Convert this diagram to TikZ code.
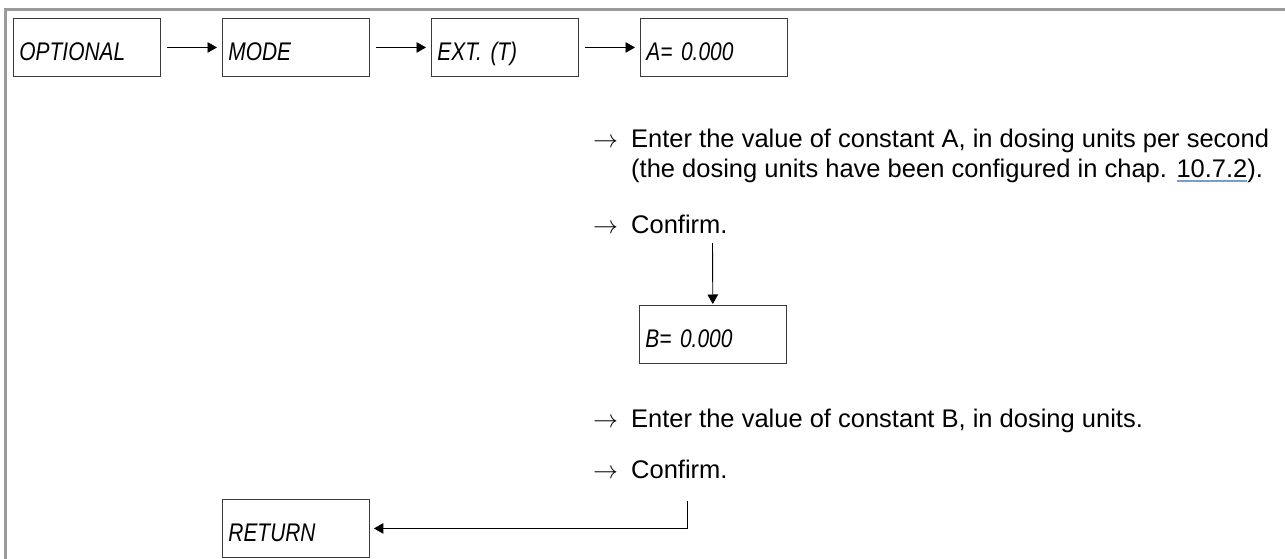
\documentclass[tikz,border=0pt]{standalone}
\usepackage{fontspec}
\setmainfont{Liberation Sans}
\newfontfamily\lcdfont{Liberation Sans}[FakeStretch=0.82]
\usepackage{xcolor}
\usetikzlibrary{arrows.meta}
\definecolor{framegray}{HTML}{9B9B9D}
\definecolor{boxgray}{HTML}{3A3A3A}
\definecolor{linkblue}{HTML}{7A9CC9}
\newsavebox\linkbox
\newcommand{\chapref}[1]{\sbox\linkbox{#1}\rlap{\textcolor{linkblue}{\rule[-5pt]{\wd\linkbox}{1.6pt}}}\usebox\linkbox}
\begin{document}
\begin{tikzpicture}[x=1pt,y=-1pt,font=\fontsize{25.5}{29}\selectfont,
  lcdbox/.style={draw=boxgray,line width=0.9pt,anchor=north west,
    minimum width=147pt,minimum height=58pt,text width=135pt,align=left,
    inner xsep=6pt,inner ysep=0pt,text height=26pt,text depth=0pt,
    font=\lcdfont\itshape\fontsize{25.5}{25.5}\selectfont},
  flow/.style={draw=black,line width=0.9pt,-{Triangle[length=9.5pt,width=10.5pt]}},
  steptext/.style={anchor=base west,inner sep=0pt}]
\useasboundingbox (0,0) rectangle (1285,559);
% frame
\draw[framegray,line width=2.6pt] (5.5,559) |- (1285,9.5);
% menu row
\foreach \i/\nm/\txt in {0/optional/OPTIONAL,1/mode/MODE,2/ext/{EXT. (T)},3/aval/{A= 0.000}}
  \node[lcdbox] (\nm) at (13+\i*209,18) {\txt};
\foreach \a/\b in {optional/mode,mode/ext,ext/aval}
  \draw[flow,shorten <=6pt,shorten >=5pt] (\a) -- (\b);

% constant A
\node[steptext] (arA1) at (593,148) {$\rightarrow$};
\node[steptext] (txA1) at (631,148) {Enter the value of constant A, in dosing units per second};
\node[steptext] (txA2) at (631,177) {(the dosing units have been configured in chap. \chapref{10.7.2}).};
\node[steptext] (arA2) at (593,233) {$\rightarrow$};
\node[steptext] (okA) at (631,233) {Confirm.};
\node[lcdbox] (bval) at (639,305) {B= 0.000};
\coordinate (okAout) at (712.5,243);
\draw[flow,shorten >=1pt] (okAout) -- (bval);

% constant B
\node[steptext] (arB1) at (593,427) {$\rightarrow$};
\node[steptext] (txB1) at (631,427) {Enter the value of constant B, in dosing units.};
\node[steptext] (arB2) at (593,478) {$\rightarrow$};
\node[steptext] (okB) at (631,478) {Confirm.};
\node[lcdbox] (ret) at (222,499) {RETURN};
\coordinate (okBout) at (687,501);
\draw[flow,shorten >=4pt] (okBout) |- (ret);
\end{tikzpicture}
\end{document}
